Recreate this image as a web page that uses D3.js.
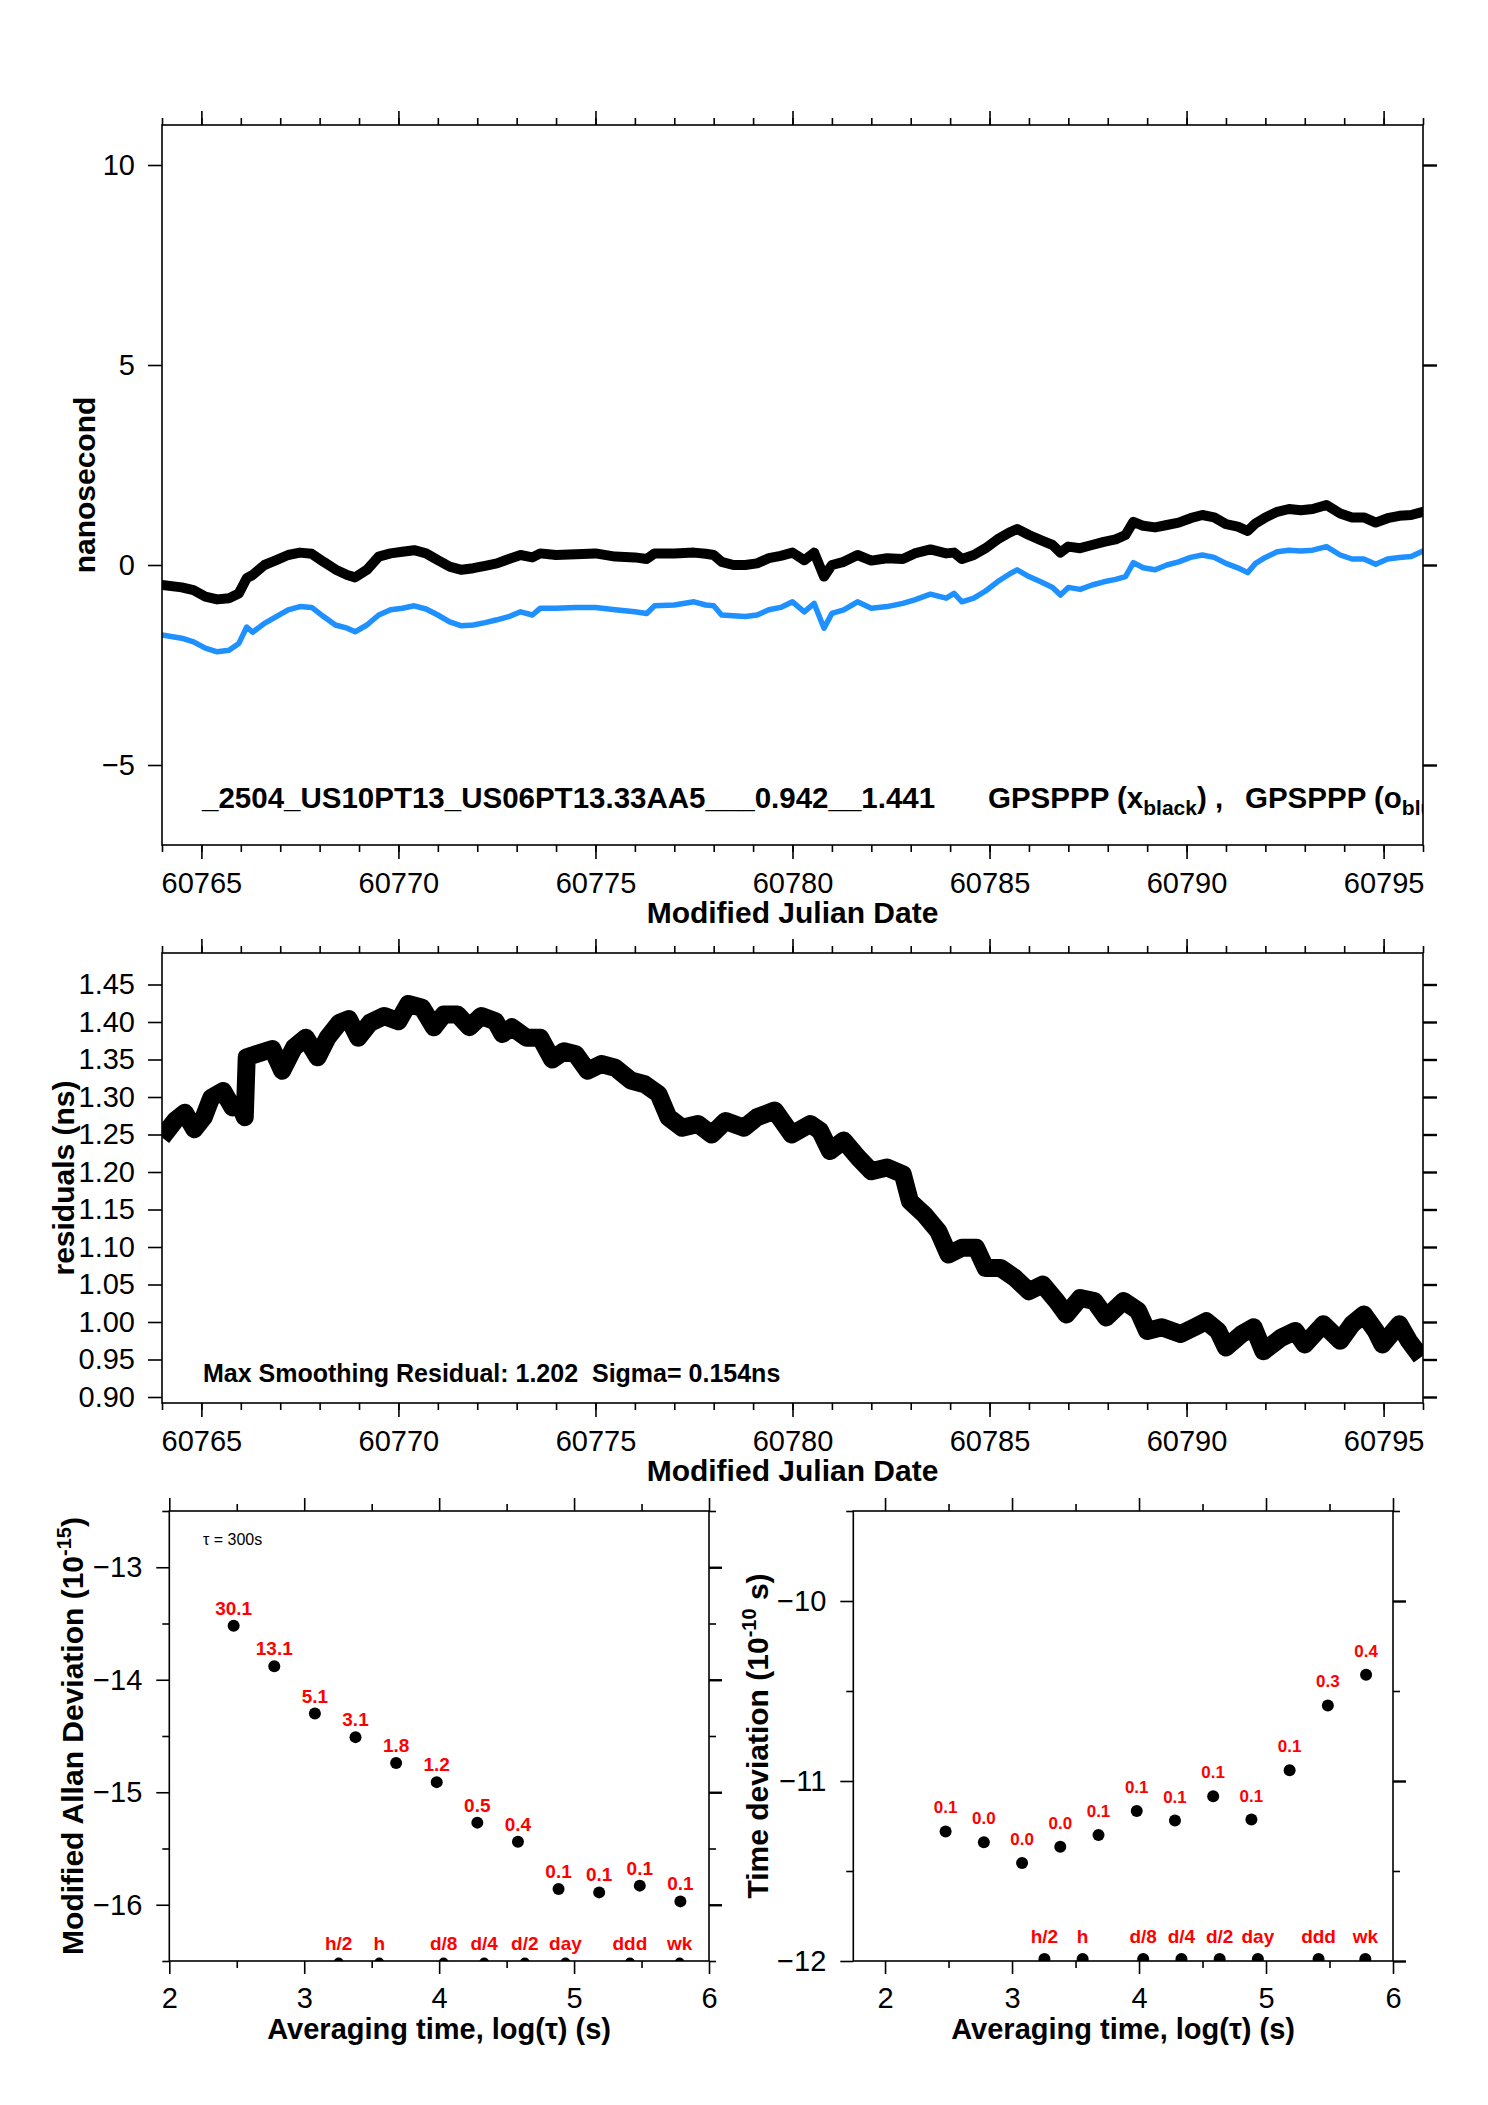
<!DOCTYPE html>
<html>
<head>
<meta charset="utf-8">
<script src="https://cdn.jsdelivr.net/npm/d3@7"></script>
<style>
  body { margin: 0; background: #fff; }
  svg { display: block; }
</style>
</head>
<body>
<svg id="fig" width="1488" height="2105"></svg>
<script>
// Panel 1: clock offsets, two solutions (ns) vs MJD
var offMjd = [60764.0, 60764.5, 60764.8, 60765.1, 60765.4, 60765.7, 60765.95, 60766.15, 60766.3, 60766.6,
  60766.9, 60767.2, 60767.5, 60767.8, 60768.1, 60768.4, 60768.7, 60768.9, 60769.2, 60769.5,
  60769.8, 60770.1, 60770.4, 60770.7, 60771.0, 60771.3, 60771.6, 60771.9, 60772.2, 60772.5,
  60772.8, 60773.1, 60773.4, 60773.6, 60774.0, 60774.5, 60775.0, 60775.5, 60776.0, 60776.3,
  60776.5, 60777.0, 60777.5, 60777.8, 60778.0, 60778.2, 60778.5, 60778.8, 60779.1, 60779.4,
  60779.7, 60780.0, 60780.3, 60780.55, 60780.8, 60781.0, 60781.3, 60781.65, 60782.0, 60782.4,
  60782.8, 60783.1, 60783.5, 60783.9, 60784.1, 60784.3, 60784.6, 60784.9, 60785.2, 60785.5,
  60785.7, 60786.0, 60786.3, 60786.6, 60786.8, 60787.0, 60787.3, 60787.6, 60787.9, 60788.2,
  60788.45, 60788.65, 60788.9, 60789.2, 60789.5, 60789.8, 60790.1, 60790.4, 60790.7, 60791.0,
  60791.3, 60791.55, 60791.75, 60792.0, 60792.3, 60792.6, 60792.9, 60793.2, 60793.55, 60793.9,
  60794.2, 60794.5, 60794.8, 60795.1, 60795.4, 60795.7, 60796.0];
var offBlack = [-0.50, -0.56, -0.63, -0.79, -0.86, -0.83, -0.71, -0.33, -0.25, 0.00,
  0.12, 0.25, 0.31, 0.28, 0.08, -0.11, -0.25, -0.31, -0.12, 0.21,
  0.29, 0.33, 0.37, 0.29, 0.12, -0.04, -0.12, -0.08, -0.02, 0.04,
  0.15, 0.25, 0.19, 0.29, 0.25, 0.27, 0.29, 0.21, 0.19, 0.15,
  0.29, 0.29, 0.31, 0.28, 0.25, 0.08, 0.00, 0.00, 0.04, 0.17,
  0.23, 0.31, 0.12, 0.31, -0.29, 0.00, 0.08, 0.25, 0.11, 0.17,
  0.15, 0.29, 0.39, 0.29, 0.31, 0.15, 0.25, 0.42, 0.64, 0.81,
  0.90, 0.75, 0.62, 0.50, 0.31, 0.46, 0.42, 0.50, 0.58, 0.64,
  0.75, 1.08, 0.98, 0.94, 1.00, 1.06, 1.17, 1.25, 1.19, 1.02,
  0.96, 0.85, 1.04, 1.19, 1.33, 1.40, 1.37, 1.40, 1.50, 1.29,
  1.19, 1.19, 1.06, 1.17, 1.23, 1.25, 1.33];
var offBlue = [-1.75, -1.83, -1.92, -2.08, -2.17, -2.13, -1.96, -1.55, -1.68, -1.46,
  -1.29, -1.12, -1.04, -1.06, -1.29, -1.50, -1.58, -1.67, -1.50, -1.25,
  -1.12, -1.08, -1.02, -1.10, -1.25, -1.42, -1.52, -1.50, -1.44, -1.37,
  -1.29, -1.17, -1.25, -1.08, -1.08, -1.06, -1.06, -1.12, -1.17, -1.21,
  -1.02, -1.00, -0.92, -1.00, -1.02, -1.25, -1.27, -1.29, -1.25, -1.12,
  -1.06, -0.92, -1.17, -0.96, -1.58, -1.21, -1.12, -0.92, -1.08, -1.04,
  -0.96, -0.87, -0.73, -0.83, -0.71, -0.92, -0.83, -0.65, -0.42, -0.23,
  -0.12, -0.29, -0.42, -0.56, -0.75, -0.56, -0.61, -0.50, -0.42, -0.36,
  -0.29, 0.06, -0.07, -0.12, 0.00, 0.08, 0.19, 0.25, 0.19, 0.04,
  -0.07, -0.19, 0.04, 0.19, 0.33, 0.37, 0.35, 0.37, 0.46, 0.25,
  0.15, 0.15, 0.02, 0.15, 0.19, 0.21, 0.35];
var offTicks = [-5, 0, 5, 10];

// Panel 2: smoothing residuals (ns)
var resMjd = [60764.0, 60764.34, 60764.58, 60764.82, 60765.06, 60765.25, 60765.55, 60765.79, 60765.97, 60766.1,
  60766.15, 60766.5, 60766.8, 60767.05, 60767.35, 60767.65, 60767.95, 60768.2, 60768.5, 60768.74,
  60768.98, 60769.28, 60769.64, 60770.0, 60770.25, 60770.6, 60770.9, 60771.15, 60771.5, 60771.8,
  60772.1, 60772.46, 60772.64, 60772.88, 60773.25, 60773.6, 60773.9, 60774.2, 60774.5, 60774.8,
  60775.15, 60775.5, 60775.9, 60776.25, 60776.6, 60776.85, 60777.2, 60777.6, 60777.95, 60778.3,
  60778.77, 60779.1, 60779.55, 60779.98, 60780.45, 60780.7, 60780.95, 60781.3, 60781.67, 60782.0,
  60782.4, 60782.8, 60782.98, 60783.35, 60783.7, 60783.96, 60784.3, 60784.66, 60784.9, 60785.28,
  60785.64, 60786.0, 60786.35, 60786.7, 60786.95, 60787.3, 60787.66, 60787.96, 60788.4, 60788.77,
  60789.0, 60789.37, 60789.85, 60790.2, 60790.5, 60790.8, 60791.0, 60791.4, 60791.7, 60791.95,
  60792.4, 60792.76, 60793.0, 60793.47, 60793.9, 60794.2, 60794.5, 60794.8, 60794.97, 60795.4,
  60795.64, 60795.95];
var resVal = [1.246, 1.269, 1.279, 1.257, 1.273, 1.299, 1.308, 1.286, 1.290, 1.273,
  1.353, 1.359, 1.364, 1.335, 1.366, 1.379, 1.353, 1.379, 1.399, 1.404,
  1.379, 1.399, 1.408, 1.401, 1.424, 1.419, 1.393, 1.410, 1.410, 1.393,
  1.408, 1.401, 1.384, 1.393, 1.379, 1.379, 1.350, 1.361, 1.357, 1.335,
  1.344, 1.339, 1.322, 1.317, 1.304, 1.273, 1.259, 1.264, 1.250, 1.268,
  1.259, 1.273, 1.282, 1.250, 1.264, 1.255, 1.228, 1.242, 1.219, 1.201,
  1.206, 1.197, 1.161, 1.143, 1.121, 1.090, 1.099, 1.099, 1.072, 1.072,
  1.059, 1.041, 1.050, 1.028, 1.010, 1.032, 1.028, 1.006, 1.028, 1.015,
  0.988, 0.993, 0.984, 0.993, 1.001, 0.988, 0.966, 0.984, 0.993, 0.961,
  0.979, 0.988, 0.970, 0.997, 0.975, 0.997, 1.010, 0.988, 0.970, 0.997,
  0.975, 0.953];
var resTicks = [0.90, 0.95, 1.00, 1.05, 1.10, 1.15, 1.20, 1.25, 1.30, 1.35, 1.40, 1.45];

// Panels 3 and 4: stability vs log10(tau)
var logTau = [2.477, 2.778, 3.079, 3.380, 3.681, 3.982, 4.283, 4.584, 4.885, 5.186, 5.487, 5.788];
var mdev = [-13.52, -13.88, -14.30, -14.51, -14.74, -14.91, -15.27, -15.44, -15.86, -15.89, -15.83, -15.97];
var mdevLbl = ["30.1", "13.1", "5.1", "3.1", "1.8", "1.2", "0.5", "0.4", "0.1", "0.1", "0.1", "0.1"];
var tdev = [-11.28, -11.34, -11.455, -11.365, -11.30, -11.167, -11.22, -11.085, -11.214, -10.94, -10.58, -10.41];
var tdevLbl = ["0.1", "0.0", "0.0", "0.0", "0.1", "0.1", "0.1", "0.1", "0.1", "0.1", "0.3", "0.4"];
var spanLog = [3.255, 3.556, 4.033, 4.334, 4.635, 4.936, 5.414, 5.782];
var spanLbl = ["h/2", "h", "d/8", "d/4", "d/2", "day", "ddd", "wk"];

var FONT = '"Liberation Sans", Arial, Helvetica, sans-serif';
var RED = "#ff0000";
var BLUE = "#1e90ff";

var svg = d3.select("#fig");
svg.append("rect").attr("width", 1488).attr("height", 2105).attr("fill", "#fff");
var defs = svg.append("defs");
var clipCount = 0;

function clipFor(x, y) {
  var id = "clip" + (clipCount++);
  defs.append("clipPath").attr("id", id).append("rect")
    .attr("x", x.range()[0]).attr("y", y.range()[1])
    .attr("width", x.range()[1] - x.range()[0])
    .attr("height", y.range()[0] - y.range()[1]);
  return "url(#" + id + ")";
}

function putAxis(g, axis, tx, ty) {
  var a = g.append("g").attr("transform", "translate(" + tx + "," + ty + ")").call(axis);
  a.select(".domain").remove();
  a.selectAll("line").attr("stroke", "#000").attr("stroke-width", 1.6);
  a.attr("font-size", 29).attr("font-family", FONT);
  a.selectAll("text").attr("fill", "#000");
  return a;
}

// frame with ticks on all four sides, all pointing outward
function drawAxes(x, y, o) {
  var left = x.range()[0], right = x.range()[1];
  var top = y.range()[1], bottom = y.range()[0];
  var g = svg.append("g");
  if (o.xMinor) {
    putAxis(g, d3.axisBottom(x).tickValues(o.xMinor).tickSize(o.minLen).tickFormat(""), 0, bottom);
    putAxis(g, d3.axisTop(x).tickValues(o.xMinor).tickSize(o.minLen).tickFormat(""), 0, top);
  }
  putAxis(g, d3.axisBottom(x).tickValues(o.xMajor).tickSize(o.len).tickPadding(o.xPad).tickFormat(o.xFmt), 0, bottom);
  putAxis(g, d3.axisTop(x).tickValues(o.xMajor).tickSize(o.len).tickFormat(""), 0, top);
  if (o.yMinor) {
    putAxis(g, d3.axisLeft(y).tickValues(o.yMinor).tickSize(o.minLen).tickFormat(""), left, 0);
    putAxis(g, d3.axisRight(y).tickValues(o.yMinor).tickSize(o.minLen).tickFormat(""), right, 0);
  }
  putAxis(g, d3.axisLeft(y).tickValues(o.yMajor).tickSize(o.len).tickPadding(o.yPad).tickFormat(o.yFmt), left, 0);
  putAxis(g, d3.axisRight(y).tickValues(o.yMajor).tickSize(o.len).tickFormat(""), right, 0)
    .selectAll("line").attr("stroke-width", 2.4);
  g.append("rect")
    .attr("x", left).attr("y", top)
    .attr("width", right - left).attr("height", bottom - top)
    .attr("fill", "none").attr("stroke", "#000").attr("stroke-width", 1.6);
  return g;
}

function label(txt, x, y, size, bold, anchor) {
  return svg.append("text").attr("x", x).attr("y", y)
    .attr("font-family", FONT).attr("font-size", size)
    .attr("font-weight", bold ? "bold" : "normal")
    .attr("text-anchor", anchor || "start")
    .style("white-space", "pre")
    .text(txt);
}

// rotated axis title, x is the baseline position
function yTitle(x, y, size) {
  return svg.append("text")
    .attr("transform", "translate(" + x + "," + y + ") rotate(-90)")
    .attr("text-anchor", "middle")
    .attr("font-family", FONT).attr("font-size", size).attr("font-weight", "bold");
}

var mjdMajor = d3.range(60765, 60796, 5);
var mjdMinor = d3.range(60764, 60797, 1);

// ---------- panel 1 ----------
var x1 = d3.scaleLinear().domain([60764, 60796]).range([162, 1423]);
var y1 = d3.scaleLinear().domain([-7, 11]).range([845, 125]);
var clip1 = clipFor(x1, y1);

var line1 = d3.line().x(function(d) { return x1(d[0]); }).y(function(d) { return y1(d[1]); });
var p1 = svg.append("g").attr("clip-path", clip1);
p1.append("path").datum(d3.zip(offMjd, offBlack)).attr("d", line1)
  .attr("fill", "none").attr("stroke", "#000").attr("stroke-width", 10)
  .attr("stroke-linejoin", "round").attr("stroke-linecap", "round");
p1.append("path").datum(d3.zip(offMjd, offBlue)).attr("d", line1)
  .attr("fill", "none").attr("stroke", BLUE).attr("stroke-width", 5.5)
  .attr("stroke-linejoin", "round").attr("stroke-linecap", "round");

drawAxes(x1, y1, {xMajor: mjdMajor, xMinor: mjdMinor, yMajor: offTicks,
  len: 14, minLen: 7, xPad: 13, yPad: 13, xFmt: d3.format("d"), yFmt: d3.format("d")});

// run label, spills over the right frame and is cut there
var annG = svg.append("g").attr("clip-path", clip1)
  .attr("font-family", FONT).attr("font-size", 29.5).attr("font-weight", "bold");
annG.append("text").attr("x", 202).attr("y", 808).style("white-space", "pre")
  .text("_2504_US10PT13_US06PT13.33AA5___0.942__1.441");
var annA = annG.append("text").attr("x", 988).attr("y", 808).style("white-space", "pre");
annA.append("tspan").text("GPSPPP (x");
annA.append("tspan").attr("font-size", 21).attr("dy", 7).text("black");
annA.append("tspan").attr("dy", -7).text(") ,");
var annB = annG.append("text").attr("x", 1245).attr("y", 808).style("white-space", "pre");
annB.append("tspan").text("GPSPPP (o");
annB.append("tspan").attr("font-size", 21).attr("dy", 7).text("blue");
annB.append("tspan").attr("dy", -7).text(")");

label("Modified Julian Date", (162 + 1423) / 2, 923, 30, true, "middle");
yTitle(95, 485, 30).text("nanosecond");

// ---------- panel 2 ----------
var x2 = d3.scaleLinear().domain([60764, 60796]).range([162, 1423]);
var y2 = d3.scaleLinear().domain([0.892, 1.492]).range([1403, 953]);
var line2 = d3.line().x(function(d) { return x2(d[0]); }).y(function(d) { return y2(d[1]); });
svg.append("g").attr("clip-path", clipFor(x2, y2))
  .append("path").datum(d3.zip(resMjd, resVal)).attr("d", line2)
  .attr("fill", "none").attr("stroke", "#000").attr("stroke-width", 18)
  .attr("stroke-linejoin", "round").attr("stroke-linecap", "butt");

drawAxes(x2, y2, {xMajor: mjdMajor, xMinor: mjdMinor, yMajor: resTicks,
  len: 14, minLen: 7, xPad: 13, yPad: 13, xFmt: d3.format("d"), yFmt: d3.format(".2f")});

label("Max Smoothing Residual: 1.202  Sigma= 0.154ns", 203, 1382, 25, true);
label("Modified Julian Date", (162 + 1423) / 2, 1481, 30, true, "middle");
yTitle(73.5, 1178, 30).text("residuals (ns)");

// ---------- panels 3 and 4 ----------
function stabilityPanel(x, y, vals, lbls, o) {
  var clip = clipFor(x, y);
  drawAxes(x, y, o);
  svg.append("g").selectAll("circle").data(d3.zip(logTau, vals)).join("circle")
    .attr("cx", function(d) { return x(d[0]); })
    .attr("cy", function(d) { return y(d[1]); })
    .attr("r", 6).attr("fill", "#000");
  svg.append("g").selectAll("text").data(d3.zip(logTau, vals, lbls)).join("text")
    .attr("x", function(d) { return x(d[0]); })
    .attr("y", function(d) { return y(d[1]) - o.lblOff; })
    .attr("text-anchor", "middle").attr("font-family", FONT)
    .attr("font-size", o.lblSize).attr("font-weight", "bold").attr("fill", RED)
    .text(function(d) { return d[2]; });
  var bottom = y.range()[0];
  svg.append("g").attr("clip-path", clip).selectAll("circle").data(spanLog).join("circle")
    .attr("cx", function(d) { return x(d); }).attr("cy", bottom + o.dotDrop)
    .attr("r", o.dotR).attr("fill", "#000");
  svg.append("g").selectAll("text").data(d3.zip(spanLog, spanLbl)).join("text")
    .attr("x", function(d) { return x(d[0]); }).attr("y", bottom - o.spanOff)
    .attr("text-anchor", "middle").attr("font-family", FONT)
    .attr("font-size", 19).attr("font-weight", "bold").attr("fill", RED)
    .text(function(d) { return d[1]; });
}

var x3 = d3.scaleLinear().domain([2, 6]).range([169.3, 709]);
var y3 = d3.scaleLinear().domain([-16.5, -12.5]).range([1961, 1511]);
stabilityPanel(x3, y3, mdev, mdevLbl, {
  xMajor: [2, 3, 4, 5, 6], xMinor: [2.5, 3.5, 4.5, 5.5],
  yMajor: [-16, -15, -14, -13], yMinor: [-16.5, -15.5, -14.5, -13.5, -12.5],
  len: 13, minLen: 7, xPad: 13, yPad: 14, xFmt: d3.format("d"), yFmt: d3.format("d"),
  lblOff: 11, lblSize: 19, spanOff: 11, dotR: 5, dotDrop: 1.5});
label("\u03c4 = 300s", 203, 1545, 16, false);
label("Averaging time, log(\u03c4) (s)", (169.3 + 709) / 2, 2039, 29, true, "middle");
var t3 = yTitle(83.3, 1736, 30);
t3.append("tspan").text("Modified Allan Deviation (10");
t3.append("tspan").attr("font-size", 20).attr("dy", -12).text("-15");
t3.append("tspan").attr("dy", 12).text(")");

var x4 = d3.scaleLinear().domain([1.75, 6]).range([853.3, 1393]);
var y4 = d3.scaleLinear().domain([-12, -9.5]).range([1961, 1511]);
stabilityPanel(x4, y4, tdev, tdevLbl, {
  xMajor: [2, 3, 4, 5, 6], xMinor: [2.5, 3.5, 4.5, 5.5],
  yMajor: [-12, -11, -10], yMinor: [-11.5, -10.5, -9.5],
  len: 13, minLen: 7, xPad: 13, yPad: 14, xFmt: d3.format("d"), yFmt: d3.format("d"),
  lblOff: 18, lblSize: 17, spanOff: 18.5, dotR: 6, dotDrop: -2});
label("Averaging time, log(\u03c4) (s)", (853.3 + 1393) / 2, 2039, 29, true, "middle");
var t4 = yTitle(768, 1736, 30);
t4.append("tspan").text("Time deviation (10");
t4.append("tspan").attr("font-size", 20).attr("dy", -12).text("-10");
t4.append("tspan").attr("dy", 12).text(" s)");
</script>
</body>
</html>
